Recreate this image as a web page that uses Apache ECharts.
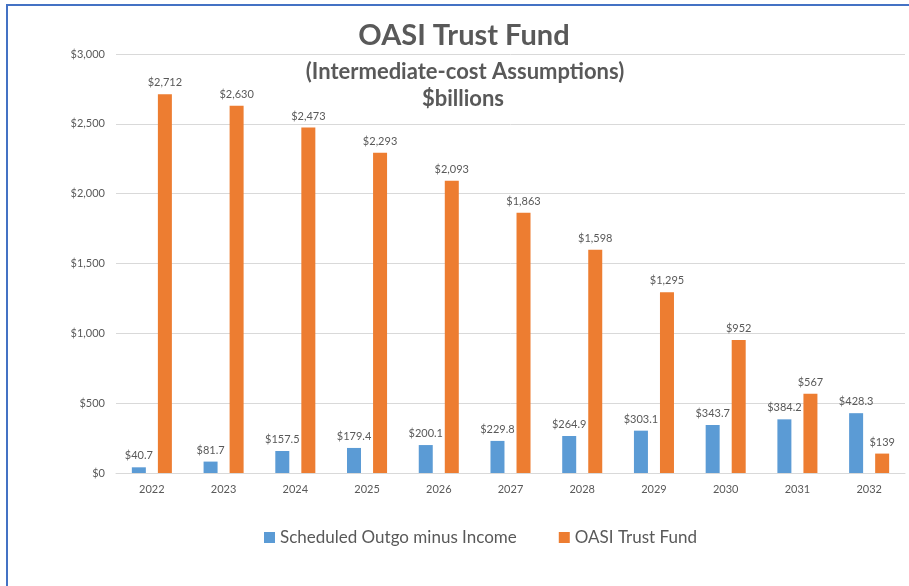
<!DOCTYPE html>
<html>
<head>
	<meta charset="UTF-8">
	<title>OASI Trust Fund</title>
	<style>
		html,body{margin:0;padding:0;background:#fff;}
		#mychart{width:909px;height:586px;}
	</style>
</head>
<body>
<div id="mychart"></div>
<script type="text/javascript" src="https://cdn.jsdelivr.net/npm/echarts@6/dist/echarts.min.js"></script>
<script type="text/javascript">
	var years = ['2022','2023','2024','2025','2026','2027','2028','2029','2030','2031','2032'];
	var outgoMinusIncome = [40.7,81.7,157.5,179.4,200.1,229.8,264.9,303.1,343.7,384.2,428.3];
	var trustFund = [2712,2630,2473,2293,2093,1863,1598,1295,952,567,139];
	var yTicks = [0,500,1000,1500,2000,2500,3000];

	var font = 'Lato, "Open Sans", sans-serif';
	var grey = '#595959';

	function money(v, dec){
		return '$' + v.toLocaleString('en-US', {minimumFractionDigits: dec, maximumFractionDigits: dec});
	}

	var myChart = echarts.init(document.getElementById('mychart'));
	var option = {
		animation: false,
		color: ['#5b9bd5','#ed7d31'],
		textStyle: {fontFamily: font},
		graphic: [
			{ // outer frame
				type: 'rect',
				shape: {x: 7, y: 5, width: 1000, height: 700},
				style: {fill: 'none', stroke: '#4472c4', lineWidth: 2},
				z: 100
			},
			{
				type: 'text',
				x: 464, y: 36,
				style: {text: 'OASI Trust Fund', font: 'bold 29px ' + font, fill: grey,
					align: 'center', verticalAlign: 'middle'}
			},
			{
				type: 'text',
				x: 465, y: 72,
				style: {text: '(Intermediate-cost Assumptions)', font: 'bold 22px ' + font, fill: grey,
					align: 'center', verticalAlign: 'middle'}
			},
			{
				type: 'text',
				x: 463, y: 99,
				style: {text: '$billions', font: 'bold 22px ' + font, fill: grey,
					align: 'center', verticalAlign: 'middle'}
			}
		],
		legend: {
			top: 524,
			left: 259,
			itemWidth: 11,
			itemHeight: 11,
			itemGap: 42,
			icon: 'rect',
			textStyle: {fontSize: 17, color: grey, fontFamily: font},
			data: ['Scheduled Outgo minus Income','OASI Trust Fund']
		},
		grid: {left: 116, right: 4, top: 54, bottom: 113},
		xAxis: {
			type: 'category',
			data: years,
			axisTick: {show: false},
			axisLine: {lineStyle: {color: '#d9d9d9'}},
			axisLabel: {color: grey, fontSize: 11, margin: 11}
		},
		yAxis: {
			type: 'value',
			min: yTicks[0],
			max: yTicks[yTicks.length-1],
			interval: 500,
			axisLine: {show: false},
			axisTick: {show: false},
			splitLine: {lineStyle: {color: '#d9d9d9'}},
			axisLabel: {color: grey, fontSize: 11, margin: 11, formatter: function(v){ return money(v, 0); }}
		},
		series: [
			{
				name: 'Scheduled Outgo minus Income',
				type: 'bar',
				barWidth: 14,
				barGap: '86%',
				data: outgoMinusIncome,
				label: {show: true, position: 'top', color: grey, fontSize: 11, distance: 6,
					formatter: function(p){ return money(p.value, 1); }}
			},
			{
				name: 'OASI Trust Fund',
				type: 'bar',
				barWidth: 14,
				data: trustFund,
				label: {show: true, position: 'top', color: grey, fontSize: 11, distance: 6,
					formatter: function(p){ return money(p.value, 0); }}
			}
		]
	};
	myChart.setOption(option);
	window.onresize = myChart.resize;
</script>
</body>
</html>
